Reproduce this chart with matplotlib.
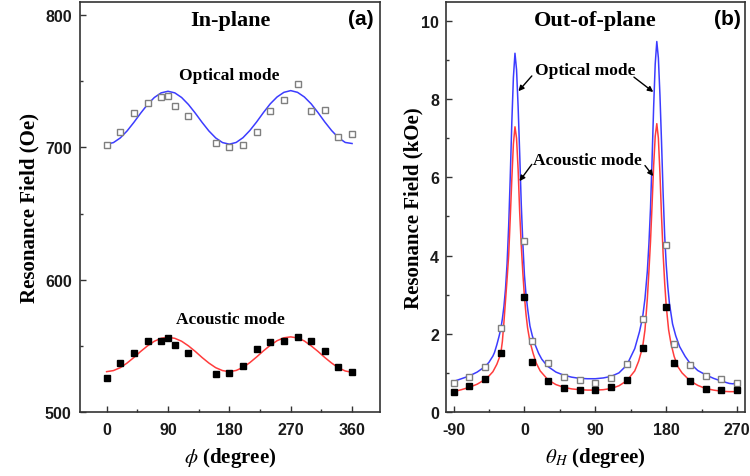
import numpy as np
import matplotlib
matplotlib.use("Agg")
import matplotlib.pyplot as plt
from matplotlib.ticker import MultipleLocator

plt.rcParams['axes.unicode_minus'] = False
plt.rcParams['mathtext.fontset'] = 'stix'

# (a) in-plane, measured points
phi = [0, 20, 40, 60, 80, 90, 100, 120, 160, 180, 200, 220, 240, 260, 280, 300, 320, 340, 360]
opt_a = [702, 712, 726, 734, 738, 739, 731.6, 723.7, 703.5, 700, 702, 712, 727.5, 735.6, 747.7, 727.5, 728, 707.6, 710]
aco_a = [525.8, 536.7, 544.3, 553.7, 553.7, 555.7, 550.6, 544.3, 528.6, 529.6, 534.9, 548, 552.7, 553.7, 556.5, 553.7, 546.3, 534.2, 530.4]

# (a) fitted curves, every 10 degrees
phi_fit = [0, 10, 20, 30, 40, 50, 60, 70, 80, 90, 100, 110, 120, 130, 140, 150, 160, 170, 180,
           190, 200, 210, 220, 230, 240, 250, 260, 270, 280, 290, 300, 310, 320, 330, 340, 350, 360]
opt_a_fit = [702.5, 703.7, 707.2, 712.5, 719.0, 726.0, 732.5, 737.8, 741.3, 742.5, 741.3, 737.8, 732.5,
             726.0, 719.0, 712.5, 707.2, 703.7, 702.5, 703.8, 707.4, 712.8, 719.3, 726.4, 733.0, 738.2,
             741.7, 743.0, 741.7, 738.2, 733.0, 726.4, 719.3, 712.8, 707.4, 703.8, 703.0]
aco_a_fit = [530.5, 531.3, 533.5, 537.0, 541.2, 545.8, 550.0, 553.5, 555.7, 556.5, 555.7, 553.5, 550.0,
             545.8, 541.2, 537.0, 533.5, 531.3, 530.5, 531.4, 533.7, 537.3, 541.6, 546.2, 550.4, 553.9,
             556.1, 556.8, 556.0, 553.7, 550.0, 545.8, 541.2, 537.0, 533.4, 531.0, 530.0]

# (b) out-of-plane, measured points (kOe)
theta = [-90, -70, -50, -30, 0, 10, 30, 50, 70, 90, 110, 130, 150, 180, 190, 210, 230, 250, 270]
opt_b = [0.74, 0.90, 1.15, 2.14, 4.38, 1.81, 1.24, 0.90, 0.83, 0.74, 0.86, 1.22, 2.37, 4.26, 1.73, 1.20, 0.92, 0.84, 0.74]
aco_b = [0.51, 0.66, 0.84, 1.50, 2.95, 1.27, 0.79, 0.62, 0.56, 0.56, 0.64, 0.81, 1.64, 2.69, 1.24, 0.80, 0.60, 0.56, 0.56]

# (b) fitted curves
th_opt = [-90, -80, -70, -60, -50, -45, -40, -38, -35, -32, -30, -28, -26, -24, -22, -20, -18, -16, -14, -12,
          -10, -8, -6, -4, -2, 0, 2, 4, 7, 10, 14, 18, 22, 26, 30, 40, 50, 60, 70, 80, 90, 100, 110, 120,
          130, 140, 146, 150, 153, 156, 158, 160, 162, 164, 166, 168, 170, 172, 174, 176, 178, 180, 182,
          184, 188, 192, 197, 204, 210, 220, 230, 240, 250, 260, 265, 270]
opt_b_fit = [0.78, 0.85, 0.92, 1.02, 1.16, 1.27, 1.43, 1.52, 1.72, 1.95, 2.13, 2.38, 2.7, 3.15, 3.8, 4.75,
             6.0, 7.4, 8.55, 9.17, 8.75, 7.8, 6.6, 5.3, 4.3, 3.5, 3.0, 2.65, 2.2, 1.95, 1.7, 1.5, 1.35,
             1.25, 1.16, 1.02, 0.94, 0.89, 0.86, 0.85, 0.85, 0.87, 0.91, 1.0, 1.2, 1.62, 2.05, 2.42, 2.9,
             3.6, 4.3, 5.2, 6.45, 7.8, 8.9, 9.47, 9.05, 8.1, 6.9, 5.6, 4.5, 3.75, 3.2, 2.78, 2.25, 1.95,
             1.67, 1.42, 1.25, 1.06, 0.95, 0.86, 0.79, 0.73, 0.72, 0.77]
th_aco = [-90, -80, -70, -60, -50, -45, -40, -35, -32, -30, -28, -26, -24, -22, -20, -18, -16, -14, -12,
          -10, -8, -6, -4, -2, 0, 2, 4, 7, 11, 15, 20, 30, 40, 50, 60, 70, 80, 90, 100, 110, 120, 130,
          140, 145, 150, 153, 156, 158, 160, 162, 164, 166, 168, 170, 172, 174, 176, 178, 180, 183, 186,
          190, 195, 200, 210, 220, 230, 240, 250, 260, 270]
aco_b_fit = [0.52, 0.57, 0.63, 0.71, 0.83, 0.92, 1.03, 1.22, 1.38, 1.5, 1.8, 2.3, 2.85, 3.4, 4.0, 4.95,
             5.95, 6.85, 7.29, 7.0, 6.2, 5.1, 4.25, 3.55, 2.95, 2.5, 2.15, 1.8, 1.5, 1.25, 1.05, 0.82,
             0.7, 0.63, 0.59, 0.57, 0.56, 0.56, 0.57, 0.6, 0.67, 0.8, 1.05, 1.3, 1.66, 2.1, 2.9, 3.6,
             4.35, 5.3, 6.3, 7.05, 7.37, 7.0, 6.1, 5.0, 4.05, 3.3, 2.7, 2.1, 1.75, 1.42, 1.15, 1.0, 0.8,
             0.68, 0.6, 0.56, 0.53, 0.52, 0.52]

blue = '#3c3cff'
red = '#ff3c3c'
serif = 'Liberation Serif'
sans = 'Liberation Sans'

fig = plt.figure(figsize=(7.5, 4.77), dpi=100)
ax1 = fig.add_axes([0.1067, 0.1342, 0.4, 0.8595])
ax2 = fig.add_axes([0.5947, 0.1342, 0.3987, 0.8595])

for ax in (ax1, ax2):
    for s in ax.spines.values():
        s.set_linewidth(1.2)
        s.set_color('#333333')
    ax.tick_params(which='both', direction='in', width=1, colors='#333333')
    ax.tick_params(which='major', length=4)
    ax.tick_params(which='minor', length=2)
    ax.tick_params(axis='x', pad=7)
    ax.tick_params(axis='y', pad=6)

# panel a
ax1.plot(phi_fit, opt_a_fit, color=blue, lw=1.1, zorder=2)
ax1.plot(phi_fit, aco_a_fit, color=red, lw=1.1, zorder=2)
ax1.plot(phi, opt_a, 's', ms=4.5, mfc='white', mec='#7f7f7f', mew=1, zorder=3)
ax1.plot(phi, aco_a, 's', ms=4.5, color='black', zorder=3)
ax1.set_xlim(-39, 401)
ax1.set_ylim(500, 810)
ax1.xaxis.set_major_locator(MultipleLocator(90))
ax1.xaxis.set_minor_locator(MultipleLocator(45))
ax1.yaxis.set_major_locator(MultipleLocator(100))
ax1.yaxis.set_minor_locator(MultipleLocator(50))
ax1.text(0.5, 0.955, 'In-plane', transform=ax1.transAxes, ha='center', va='center',
         family=serif, weight='bold', fontsize=16)
ax1.text(0.935, 0.96, '(a)', transform=ax1.transAxes, ha='center', va='center',
         family=sans, weight='bold', fontsize=15)
ax1.text(180, 755, 'Optical mode', ha='center', va='center', family=serif, weight='bold', fontsize=12.5)
ax1.text(182, 570, 'Acoustic mode', ha='center', va='center', family=serif, weight='bold', fontsize=12.5)
ax1.set_xlabel(r'$\phi$ (degree)', family=serif, weight='bold', fontsize=15, labelpad=6)
ax1.set_ylabel('Resonance Field (Oe)', family=serif, weight='bold', fontsize=15, labelpad=4)

# panel b
ax2.plot(th_opt, opt_b_fit, color=blue, lw=1.1, zorder=2)
ax2.plot(th_aco, aco_b_fit, color=red, lw=1.1, zorder=2)
ax2.plot(theta, opt_b, 's', ms=4.5, mfc='white', mec='#7f7f7f', mew=1, zorder=3)
ax2.plot(theta, aco_b, 's', ms=4.5, color='black', zorder=3)
ax2.set_xlim(-99.5, 280)
ax2.set_ylim(0, 10.48)
ax2.xaxis.set_major_locator(MultipleLocator(90))
ax2.xaxis.set_minor_locator(MultipleLocator(45))
ax2.yaxis.set_major_locator(MultipleLocator(2))
ax2.yaxis.set_minor_locator(MultipleLocator(1))
ax2.tick_params(axis='y', pad=5)
ax2.text(0.5, 0.955, 'Out-of-plane', transform=ax2.transAxes, ha='center', va='center',
         family=serif, weight='bold', fontsize=16)
ax2.text(0.94, 0.96, '(b)', transform=ax2.transAxes, ha='center', va='center',
         family=sans, weight='bold', fontsize=15)
ax2.text(77, 8.73, 'Optical mode', ha='center', va='center', family=serif, weight='bold', fontsize=12.5)
ax2.text(80, 6.45, 'Acoustic mode', ha='center', va='center', family=serif, weight='bold', fontsize=12.5)
arrow = dict(arrowstyle='-|>', color='black', lw=1, mutation_scale=8, shrinkA=0, shrinkB=0)
ax2.annotate('', xy=(-7.6, 8.2), xytext=(9.4, 8.59), arrowprops=arrow)
ax2.annotate('', xy=(163.5, 8.18), xytext=(139, 8.56), arrowprops=arrow)
ax2.annotate('', xy=(-6.3, 5.9), xytext=(9.4, 6.33), arrowprops=arrow)
ax2.annotate('', xy=(163.5, 6.03), xytext=(153, 6.3), arrowprops=arrow)
ax2.set_xlabel(r'$\theta_H$ (degree)', family=serif, weight='bold', fontsize=15, labelpad=6)
ax2.set_ylabel('Resonance Field (kOe)', family=serif, weight='bold', fontsize=15, labelpad=-2)

for ax in (ax1, ax2):
    for lab in ax.get_xticklabels() + ax.get_yticklabels():
        lab.set_family(sans)
        lab.set_weight('bold')
        lab.set_fontsize(11.5)
        lab.set_color('#1a1a1a')

fig.savefig('out.png', dpi=100)
